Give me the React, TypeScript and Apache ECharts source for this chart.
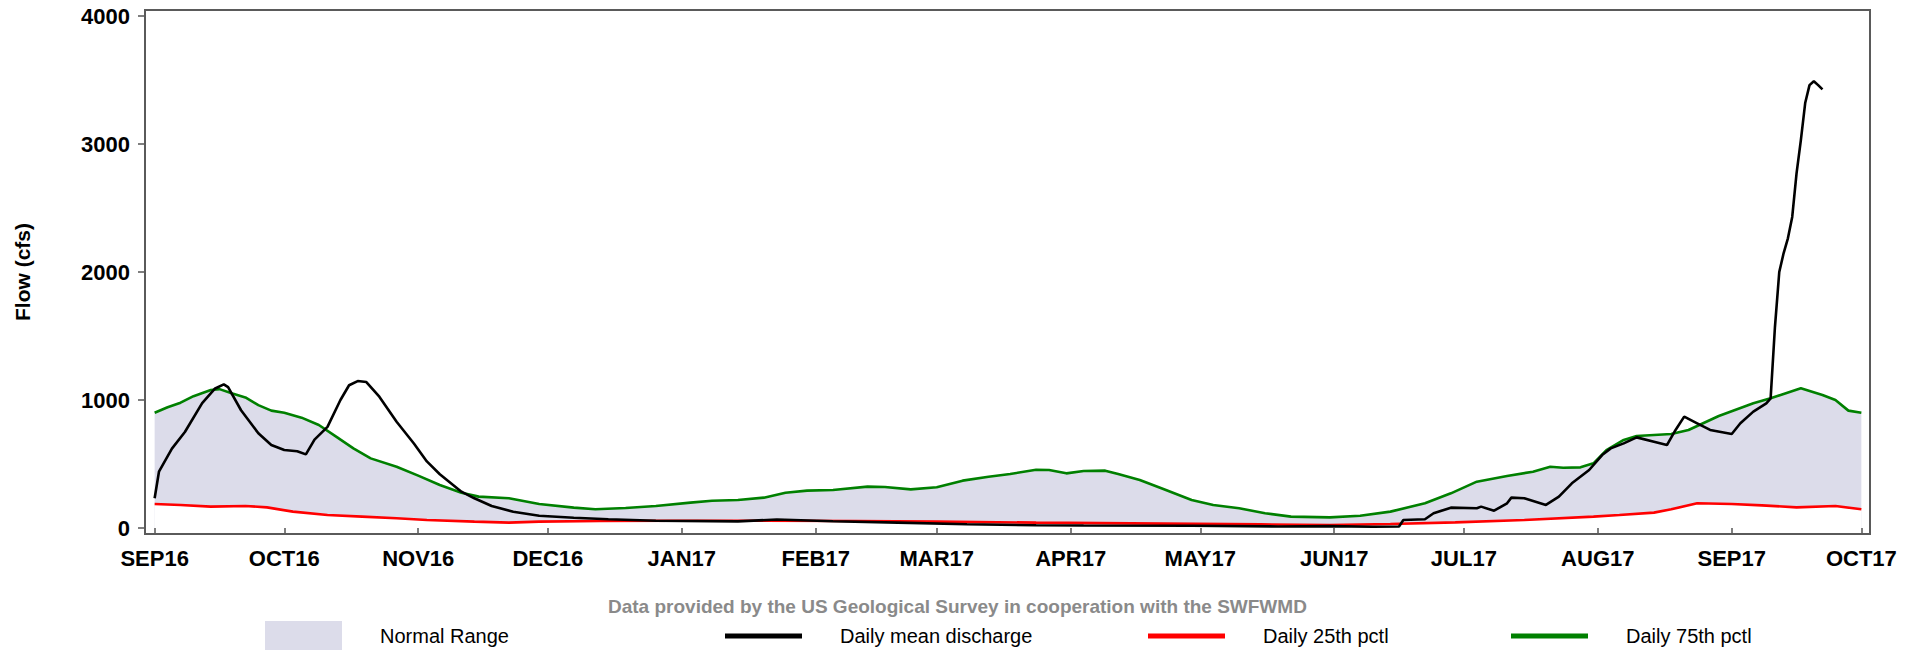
import { useEffect, useRef } from 'react';
import * as echarts from 'echarts';

// x axis range (daily categories)
const AXIS_START = '2016-08-30';
const AXIS_END = '2017-10-03';
const MONTHS = ['JAN', 'FEB', 'MAR', 'APR', 'MAY', 'JUN', 'JUL', 'AUG', 'SEP', 'OCT', 'NOV', 'DEC'];
const Y_TICKS = [0, 1000, 2000, 3000, 4000];

const dailyMean: [string, number][] = [
  ['2016-09-01', 232], ['2016-09-02', 440], ['2016-09-05', 620], ['2016-09-08', 750],
  ['2016-09-12', 975], ['2016-09-15', 1090], ['2016-09-17', 1122], ['2016-09-18', 1100],
  ['2016-09-21', 920], ['2016-09-25', 740], ['2016-09-28', 648], ['2016-10-01', 610],
  ['2016-10-04', 600], ['2016-10-06', 575], ['2016-10-08', 690], ['2016-10-11', 790],
  ['2016-10-14', 1000], ['2016-10-16', 1115], ['2016-10-18', 1148], ['2016-10-20', 1140],
  ['2016-10-23', 1026], ['2016-10-27', 830], ['2016-10-31', 660], ['2016-11-03', 520],
  ['2016-11-06', 420], ['2016-11-11', 284], ['2016-11-14', 232], ['2016-11-18', 172],
  ['2016-11-23', 127], ['2016-11-29', 96], ['2016-12-07', 80], ['2016-12-15', 68],
  ['2016-12-26', 57], ['2017-01-14', 52], ['2017-01-23', 66], ['2017-02-05', 53],
  ['2017-02-20', 42], ['2017-03-08', 29], ['2017-03-24', 21], ['2017-04-04', 20],
  ['2017-04-29', 18], ['2017-05-19', 12], ['2017-05-31', 15], ['2017-06-10', 10],
  ['2017-06-16', 12], ['2017-06-17', 62], ['2017-06-22', 68], ['2017-06-24', 115],
  ['2017-06-28', 159], ['2017-07-04', 154], ['2017-07-05', 167], ['2017-07-08', 135],
  ['2017-07-11', 193], ['2017-07-12', 237], ['2017-07-15', 232], ['2017-07-20', 180],
  ['2017-07-23', 245], ['2017-07-26', 349], ['2017-07-30', 453], ['2017-08-02', 570],
  ['2017-08-04', 622], ['2017-08-07', 661], ['2017-08-10', 708], ['2017-08-14', 674],
  ['2017-08-17', 648], ['2017-08-19', 766], ['2017-08-21', 870], ['2017-08-24', 818],
  ['2017-08-27', 766], ['2017-09-01', 734], ['2017-09-03', 818], ['2017-09-06', 909],
  ['2017-09-09', 974], ['2017-09-10', 1013], ['2017-09-11', 1570], ['2017-09-12', 2000],
  ['2017-09-13', 2146], ['2017-09-14', 2263], ['2017-09-15', 2430], ['2017-09-16', 2770],
  ['2017-09-17', 3030], ['2017-09-18', 3320], ['2017-09-19', 3460], ['2017-09-20', 3490],
  ['2017-09-21', 3460], ['2017-09-22', 3427],
];

const pctl25: [string, number][] = [
  ['2016-09-01', 188], ['2016-09-07', 180], ['2016-09-14', 167], ['2016-09-22', 172],
  ['2016-09-27', 161], ['2016-10-03', 128], ['2016-10-11', 102], ['2016-10-19', 89],
  ['2016-10-27', 76], ['2016-11-03', 62], ['2016-11-14', 50], ['2016-11-22', 42],
  ['2016-11-29', 50], ['2016-12-13', 55], ['2016-12-30', 57], ['2017-01-14', 57],
  ['2017-02-10', 55], ['2017-03-01', 50], ['2017-03-24', 42], ['2017-04-15', 36],
  ['2017-05-15', 28], ['2017-05-31', 23], ['2017-06-14', 31], ['2017-06-29', 44],
  ['2017-07-15', 62], ['2017-07-31', 89], ['2017-08-06', 102], ['2017-08-14', 120],
  ['2017-08-18', 146], ['2017-08-24', 193], ['2017-09-01', 188], ['2017-09-08', 177],
  ['2017-09-16', 161], ['2017-09-25', 172], ['2017-10-01', 146],
];

const pctl75: [string, number][] = [
  ['2016-09-01', 900], ['2016-09-04', 943], ['2016-09-07', 979], ['2016-09-10', 1030],
  ['2016-09-14', 1078], ['2016-09-16', 1085], ['2016-09-19', 1050], ['2016-09-22', 1020],
  ['2016-09-25', 960], ['2016-09-28', 917], ['2016-10-01', 900], ['2016-10-05', 862],
  ['2016-10-09', 805], ['2016-10-13', 714], ['2016-10-17', 622], ['2016-10-21', 544],
  ['2016-10-27', 479], ['2016-11-01', 409], ['2016-11-06', 336], ['2016-11-11', 276],
  ['2016-11-15', 245], ['2016-11-22', 232], ['2016-11-29', 188], ['2016-12-07', 159],
  ['2016-12-12', 146], ['2016-12-19', 156], ['2016-12-26', 172], ['2017-01-03', 198],
  ['2017-01-08', 213], ['2017-01-14', 219], ['2017-01-20', 237], ['2017-01-25', 276],
  ['2017-01-30', 292], ['2017-02-05', 297], ['2017-02-13', 323], ['2017-02-17', 320],
  ['2017-02-23', 302], ['2017-03-01', 318], ['2017-03-07', 370], ['2017-03-13', 401],
  ['2017-03-18', 422], ['2017-03-24', 455], ['2017-03-27', 453], ['2017-03-31', 427],
  ['2017-04-04', 445], ['2017-04-09', 448], ['2017-04-12', 422], ['2017-04-17', 375],
  ['2017-04-22', 310], ['2017-04-29', 219], ['2017-05-04', 180], ['2017-05-10', 154],
  ['2017-05-16', 115], ['2017-05-22', 89], ['2017-05-31', 83], ['2017-06-07', 96],
  ['2017-06-14', 128], ['2017-06-22', 193], ['2017-06-28', 271], ['2017-07-04', 362],
  ['2017-07-11', 406], ['2017-07-17', 440], ['2017-07-21', 479], ['2017-07-24', 471],
  ['2017-07-28', 474], ['2017-07-31', 505], ['2017-08-03', 609], ['2017-08-07', 688],
  ['2017-08-10', 719], ['2017-08-18', 734], ['2017-08-22', 766], ['2017-08-29', 875],
  ['2017-09-06', 974], ['2017-09-10', 1013], ['2017-09-17', 1091], ['2017-09-22', 1039],
  ['2017-09-25', 1000], ['2017-09-28', 917], ['2017-10-01', 900],
];

const FOOTNOTE = 'Data provided by the US Geological Survey in cooperation with the SWFWMD';
const FONT = '"Liberation Sans", Arial, sans-serif';
const BAND = '#dcdcea';
const GREEN = '#008000';
const RED = '#ff0000';

function buildDays(start: string, end: string): string[] {
  const out: string[] = [];
  const [sy, sm, sd] = start.split('-').map(Number);
  const [ey, em, ed] = end.split('-').map(Number);
  let t = Date.UTC(sy, sm - 1, sd);
  const tEnd = Date.UTC(ey, em - 1, ed);
  while (t <= tEnd) {
    out.push(new Date(t).toISOString().slice(0, 10));
    t += 86400000;
  }
  return out;
}

export default function App() {
  const ref = useRef<HTMLDivElement>(null);

  useEffect(() => {
    if (!ref.current) return;
    const chart = echarts.init(ref.current, null, { renderer: 'svg' });
    const days = buildDays(AXIS_START, AXIS_END);
    const idx: Record<string, number> = {};
    days.forEach((d, i) => (idx[d] = i));
    const toData = (arr: [string, number][]) => arr.map(([d, v]) => [idx[d], v]);
    const isMonthStart = (_i: number, v: string) => v.slice(8, 10) === '01';

    const legendBase = {
      orient: 'horizontal',
      itemWidth: 77,
      icon: 'rect',
      selectedMode: false,
      padding: 0,
      textStyle: { fontFamily: FONT, fontSize: 20, color: '#000', padding: [0, 0, 0, 33], lineHeight: 22 },
    };

    chart.setOption({
      animation: false,
      backgroundColor: '#fff',
      grid: { left: 146, right: 51, top: 16, bottom: 122, containLabel: false },
      title: {
        text: FOOTNOTE,
        left: 603,
        top: 592,
        textStyle: { fontFamily: FONT, fontSize: 19, fontWeight: 'bold', color: '#8a8a8a' },
      },
      legend: [
        { ...legendBase, data: ['Normal Range'], left: 265, top: 621, itemHeight: 29 },
        { ...legendBase, data: ['Daily mean discharge'], left: 725, top: 625, itemHeight: 5 },
        { ...legendBase, data: ['Daily 25th pctl'], left: 1148, top: 625, itemHeight: 5 },
        { ...legendBase, data: ['Daily 75th pctl'], left: 1511, top: 625, itemHeight: 5 },
      ],
      xAxis: {
        type: 'category',
        data: days,
        boundaryGap: false,
        offset: 6,
        axisLine: { show: false },
        axisTick: { show: true, interval: isMonthStart, length: 7, lineStyle: { color: '#555', width: 1.5 } },
        axisLabel: {
          interval: isMonthStart,
          margin: 13,
          fontFamily: FONT,
          fontSize: 22,
          fontWeight: 'bold',
          color: '#000',
          formatter: (v: string) => MONTHS[Number(v.slice(5, 7)) - 1] + v.slice(2, 4),
        },
        splitLine: { show: false },
      },
      yAxis: {
        type: 'value',
        min: Y_TICKS[0],
        max: Y_TICKS[Y_TICKS.length - 1],
        interval: 1000,
        name: 'Flow (cfs)',
        nameLocation: 'middle',
        nameRotate: 90,
        nameGap: 113,
        nameTextStyle: { fontFamily: FONT, fontSize: 21, fontWeight: 'bold', color: '#000' },
        axisLine: { show: false },
        axisTick: { show: true, length: 8, lineStyle: { color: '#555', width: 1.5 } },
        axisLabel: {
          margin: 16,
          fontFamily: FONT,
          fontSize: 22,
          fontWeight: 'bold',
          color: '#000',
          formatter: (v: number) => String(v),
        },
        splitLine: { show: false },
      },
      graphic: [
        {
          type: 'rect',
          silent: true,
          z: 100,
          shape: { x: 145, y: 10, width: 1725, height: 524 },
          style: { fill: 'none', stroke: '#5a5a5a', lineWidth: 2 },
        },
      ],
      series: [
        {
          name: 'Normal Range',
          type: 'line',
          data: toData(pctl75),
          symbol: 'none',
          color: BAND,
          lineStyle: { width: 0, color: BAND },
          areaStyle: { color: BAND, opacity: 1 },
          z: 1,
        },
        {
          name: 'mask',
          type: 'line',
          data: toData(pctl25),
          symbol: 'none',
          color: '#fff',
          lineStyle: { width: 0, color: '#fff' },
          areaStyle: { color: '#fff', opacity: 1 },
          z: 2,
        },
        {
          name: 'Daily 25th pctl',
          type: 'line',
          data: toData(pctl25),
          symbol: 'none',
          color: RED,
          lineStyle: { width: 2.6, color: RED },
          z: 3,
        },
        {
          name: 'Daily 75th pctl',
          type: 'line',
          data: toData(pctl75),
          symbol: 'none',
          color: GREEN,
          lineStyle: { width: 2.6, color: GREEN },
          z: 4,
        },
        {
          name: 'Daily mean discharge',
          type: 'line',
          data: toData(dailyMean),
          symbol: 'none',
          color: '#000',
          lineStyle: { width: 2.6, color: '#000' },
          z: 5,
        },
      ],
    });
    return () => chart.dispose();
  }, []);

  return (
    <div
      ref={ref}
      style={{ position: 'fixed', left: 0, top: 0, width: 1921, height: 650, background: '#fff' }}
    />
  );
}
